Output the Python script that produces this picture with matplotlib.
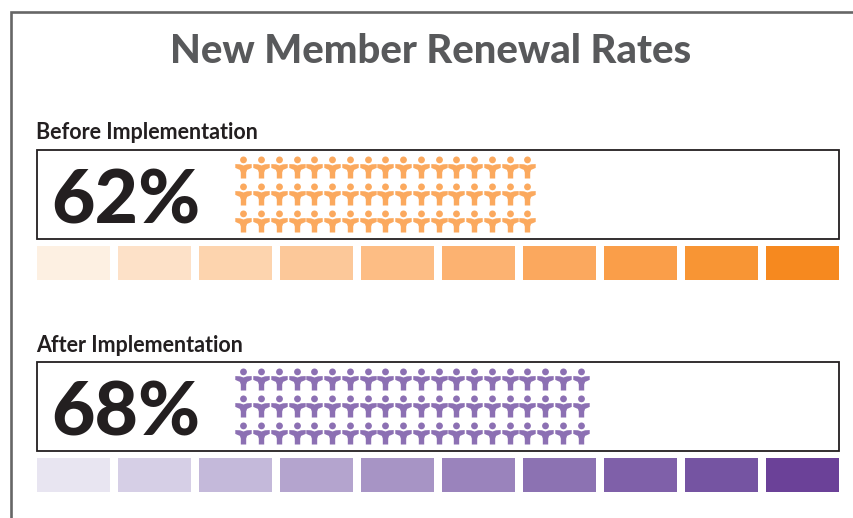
import matplotlib
matplotlib.use('Agg')
import numpy as np
import matplotlib.pyplot as plt
from matplotlib.path import Path
from matplotlib.patches import Rectangle

# Panel data
title_text = 'New Member Renewal Rates'
panel_labels = ['Before Implementation', 'After Implementation']
panel_values = ['62%', '68%']
icon_columns = [17, 20]
icon_rows = 3
orange_scale = ['#FDF0E2', '#FDE1C8', '#FDD4AE', '#FCC899', '#FDBD84',
                '#FCB271', '#FBA85E', '#FA9E49', '#F89534', '#F6891F']
purple_scale = ['#E8E5F1', '#D6CFE6', '#C4B9DA', '#B4A4CE', '#A794C5',
                '#9A83BC', '#8C72B2', '#7F60A9', '#7554A2', '#6B4198']
icon_colors = ['#FBA95E', '#8C70B3']

plt.rcParams['font.family'] = ['Lato', 'DejaVu Sans']

fig = plt.figure(figsize=(8.54, 5.18), dpi=100)
ax = fig.add_axes([0, 0, 1, 1])
ax.set_xlim(0, 854)
ax.set_ylim(518, 0)
ax.axis('off')

# person icon, head plus a body with raised arms
body = Path([(-8.2, 3.4), (-3.5, 3.2), (0, 2.0), (3.5, 3.2), (8.2, 3.4), (8.2, -0.4),
             (3.6, -2.4), (2.7, -5.0), (2.7, -11), (-2.7, -11), (-2.7, -5.0), (-3.6, -2.4),
             (-8.2, -0.4), (-8.2, 3.4)],
            closed=True)
head = Path.circle((0, 7.6), 3.4)
person = Path.make_compound_path(head, body)

# outer frame runs off the right and bottom edge
ax.plot([11.5, 11.5, 860], [530, 11.5, 11.5], color='#666666', lw=1.9, solid_joinstyle='miter')

ax.text(431, 63, title_text, fontsize=28.8, fontweight='black', color='#58595B', ha='center', va='baseline')

tops = [150, 362]
scales = [orange_scale, purple_scale]
for p in range(2):
    top = tops[p]
    ax.text(36, top - 11 + p, panel_labels[p], fontsize=15.5, fontweight='bold', color='#231F20', va='baseline')
    ax.add_patch(Rectangle((37.5, top), 801.5, 88.5, facecolor='white', edgecolor='#231F20', lw=1.3))
    ax.text(51, top + 74, panel_values[p], fontsize=54, fontweight='black', color='#231F20', va='baseline')

    # icon grid
    xs = 243.5 + 17.75 * np.arange(icon_columns[p])
    ys = top + 17 + 27 * np.arange(icon_rows)
    gx, gy = np.meshgrid(xs, ys)
    ax.scatter(gx.ravel(), gy.ravel(), marker=person, s=251, color=icon_colors[p], linewidths=0, zorder=3)

    # colour scale underneath
    for i, c in enumerate(scales[p]):
        ax.add_patch(Rectangle((37 + 81 * i, top + 96), 73, 34, facecolor=c, edgecolor='none'))

fig.savefig('out.png', dpi=100)
